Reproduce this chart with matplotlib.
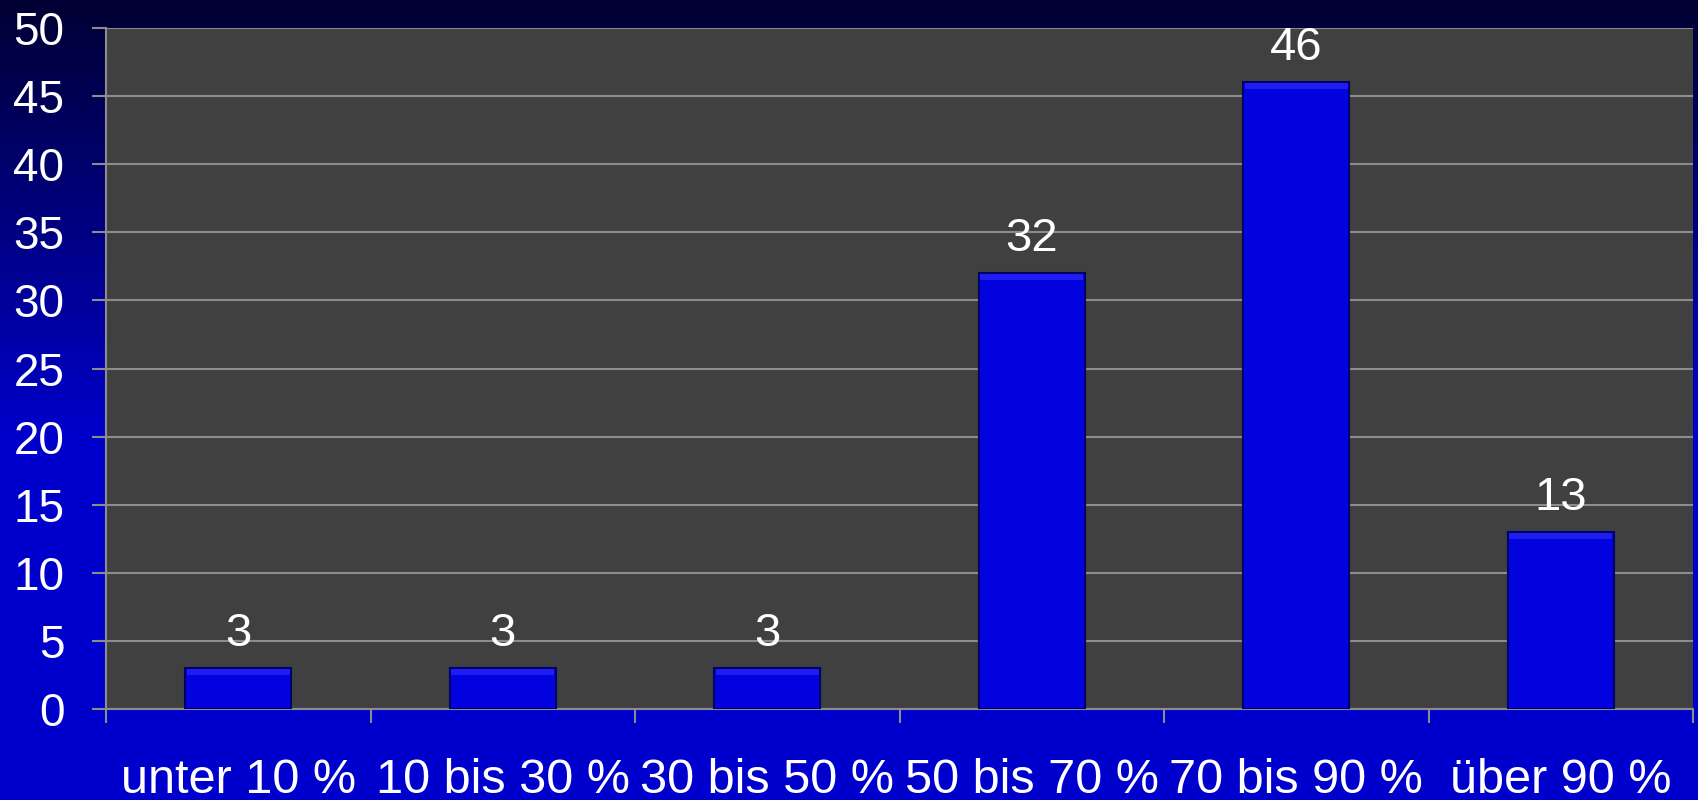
import numpy as np
import matplotlib.pyplot as plt
from matplotlib.colors import LinearSegmentedColormap

categories = ["unter 10 %", "10 bis 30 %", "30 bis 50 %", "50 bis 70 %", "70 bis 90 %", "über 90 %"]
values = [3, 3, 3, 32, 46, 13]
y_ticks = [0, 5, 10, 15, 20, 25, 30, 35, 40, 45, 50]

plt.rcParams['font.family'] = ['Liberation Sans', 'DejaVu Sans']

fig = plt.figure(figsize=(16.98, 8), dpi=100)

# background gradient: dark navy at top to bright blue lower down
bg = fig.add_axes([0, 0, 1, 1], zorder=-10)
cmap = LinearSegmentedColormap.from_list(
    "bg", [(0.0, "#000033"), (0.55, "#0000cc"), (1.0, "#0000cc")])
grad = np.linspace(0, 1, 256).reshape(-1, 1)
bg.imshow(grad, aspect="auto", cmap=cmap, extent=[0, 1, 0, 1], origin="upper")
bg.axis("off")

ax = fig.add_axes([106 / 1698, 1 - 709 / 800, (1693 - 106) / 1698, (709 - 28) / 800])
ax.set_facecolor("#404040")

x = np.arange(len(categories))
ax.bar(x, values, width=0.4, color="#0303e0", edgecolor="#00006a", linewidth=1.5, zorder=3)
# light bevel along the top of each bar
bevel = 0.45
ax.bar(x, [bevel] * len(values), bottom=[v - bevel - 0.05 for v in values], width=0.39,
       color="#1e1ef2", linewidth=0, zorder=4)

for xi, v in zip(x, values):
    ax.text(xi, v + 2.5, str(v), ha="center", va="center", fontsize=34, color="white", zorder=5)

ax.set_xlim(-0.5, len(categories) - 0.5)
ax.set_ylim(0, 50)
ax.set_yticks(y_ticks)
ax.yaxis.grid(True, color="#8c8c8c", linewidth=1.5, zorder=0)
ax.set_axisbelow(True)

ax.set_xticks(x)
ax.set_xticklabels(categories)
ax.set_xticks(np.arange(-0.5, len(categories)), minor=True)
ax.tick_params(axis="x", which="major", length=0, pad=35, labelsize=35, colors="white")
ax.tick_params(axis="x", which="minor", length=10, width=1.5, color="#8c8c8c")
ax.tick_params(axis="y", length=10, width=1.5, color="#8c8c8c", pad=20, labelsize=33, labelcolor="white")

for side in ["top", "right"]:
    ax.spines[side].set_visible(False)
for side in ["left", "bottom"]:
    ax.spines[side].set_color("#8c8c8c")
    ax.spines[side].set_linewidth(1.5)

fig.savefig("out.png", dpi=100)
